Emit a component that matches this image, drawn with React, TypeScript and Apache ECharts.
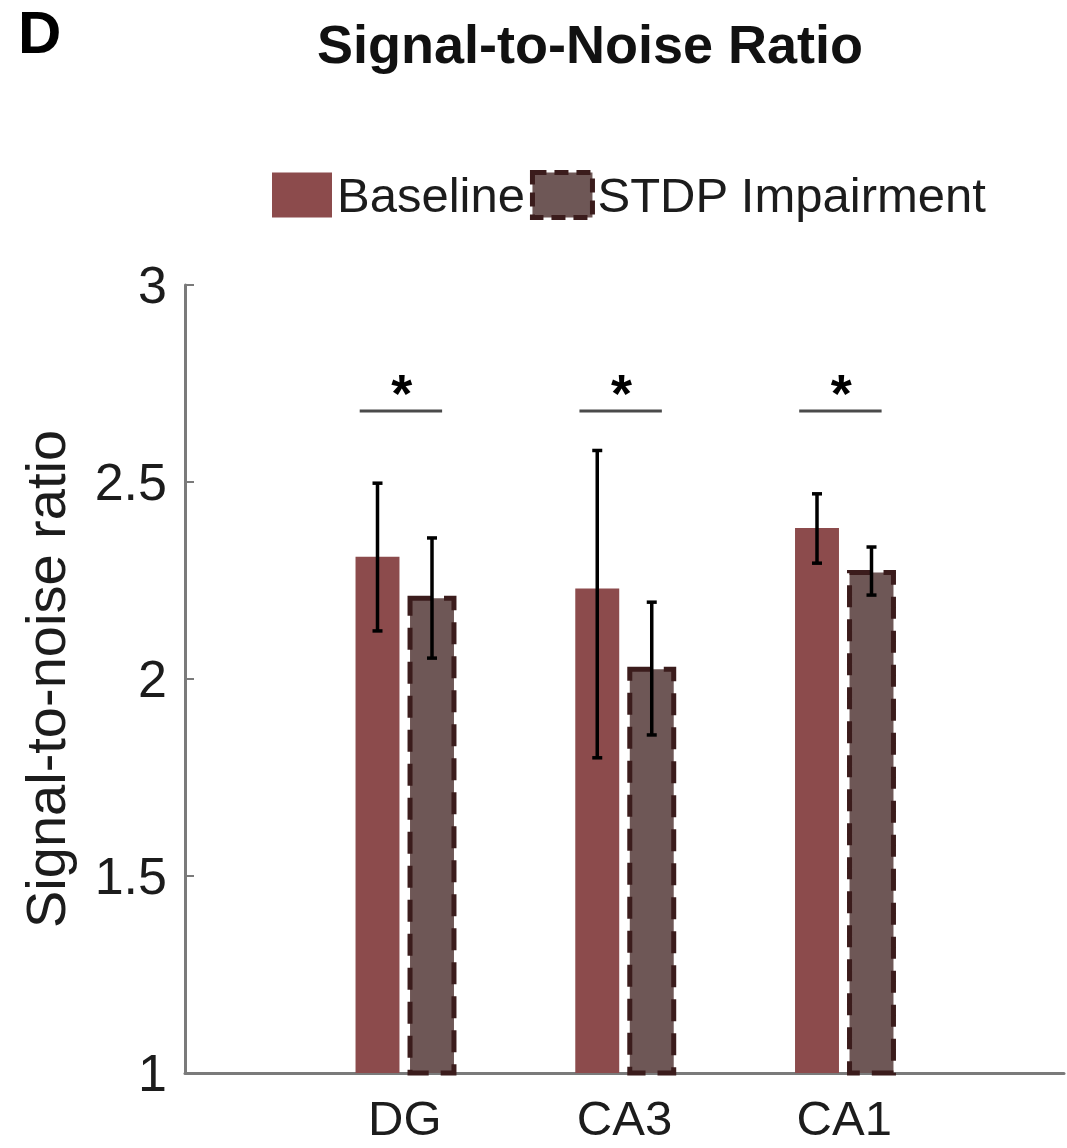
import React, { useEffect, useRef } from "react";
import * as echarts from "echarts";

const categories = ["DG", "CA3", "CA1"];
const baselineMean = [2.31, 2.23, 2.383];
const baselineLow = [2.122, 1.80, 2.294];
const baselineHigh = [2.497, 2.58, 2.47];
const stdpMean = [2.205, 2.025, 2.27];
const stdpLow = [2.053, 1.858, 2.213];
const stdpHigh = [2.358, 2.195, 2.335];
const sigLevel = [2.68, 2.68, 2.68];
const sigLabel = ["*", "*", "*"];
const seriesNames = ["Baseline", "STDP Impairment"];

const FONT = "'Liberation Sans', Arial, Helvetica, sans-serif";
const BASE_COLOR = "#8C4B4C";
const STDP_COLOR = "#6E5756";
const STDP_BORDER = "#3B1C1C";
const AXIS_COLOR = "#7a7a7a";
const TEXT_COLOR = "#1c1c1c";

const BAR_OFFSET = 0.124;
const BAR_W = 0.2;

export default function App() {
  const ref = useRef<HTMLDivElement>(null);

  useEffect(() => {
    if (!ref.current) return;
    const chart = echarts.init(ref.current, null, { renderer: "svg" });

    const barItem = (offset: number, style: any) => (params: any, api: any) => {
      const x = api.value(0) + offset;
      const y = api.value(1);
      const top = api.coord([x, y]);
      const bottom = api.coord([x, 1]);
      const w = api.size([BAR_W, 0])[0];
      return {
        type: "rect",
        shape: { x: top[0] - w / 2, y: top[1], width: w, height: bottom[1] - top[1] },
        style,
      };
    };

    const errItem = (params: any, api: any) => {
      const x = api.value(0) + api.value(3);
      const lo = api.coord([x, api.value(1)]);
      const hi = api.coord([x, api.value(2)]);
      const cw = 5;
      const ls = { stroke: "#000", lineWidth: 3.5 };
      return {
        type: "group",
        children: [
          { type: "line", shape: { x1: lo[0], y1: lo[1], x2: hi[0], y2: hi[1] }, style: ls },
          { type: "line", shape: { x1: lo[0] - cw, y1: lo[1], x2: lo[0] + cw, y2: lo[1] }, style: ls },
          { type: "line", shape: { x1: hi[0] - cw, y1: hi[1], x2: hi[0] + cw, y2: hi[1] }, style: ls },
        ],
      };
    };

    const sigItem = (params: any, api: any) => {
      const x = api.value(0);
      const l = api.coord([x - 0.205, api.value(1)]);
      const r = api.coord([x + 0.17, api.value(1)]);
      const c = api.coord([x, api.value(1)]);
      return {
        type: "group",
        children: [
          { type: "line", shape: { x1: l[0], y1: l[1], x2: r[0], y2: r[1] }, style: { stroke: "#4a4a4a", lineWidth: 3 } },
          {
            type: "text",
            x: c[0] - 3,
            y: c[1] - 18,
            style: {
              text: sigLabel[params.dataIndex],
              fontSize: 54,
              fontWeight: "bold",
              fontFamily: FONT,
              fill: "#000",
              align: "center",
              verticalAlign: "middle",
            },
          },
        ],
      };
    };

    const stdpStyle = {
      fill: STDP_COLOR,
      stroke: STDP_BORDER,
      lineWidth: 5,
      lineDash: [22, 12],
    };

    chart.setOption({
      animation: false,
      backgroundColor: "#ffffff",
      graphic: [
        {
          type: "text",
          x: 18,
          y: 32,
          style: { text: "D", fontSize: 60, fontWeight: "bold", fontFamily: FONT, fill: "#000", align: "left", verticalAlign: "middle" },
        },
        {
          type: "text",
          x: 590,
          y: 44,
          style: { text: "Signal-to-Noise Ratio", fontSize: 54, fontWeight: "bold", fontFamily: FONT, fill: "#111", align: "center", verticalAlign: "middle" },
        },
      ],
      legend: {
        left: 267,
        top: 165,
        itemWidth: 60,
        itemHeight: 45,
        itemGap: 5,
        icon: "rect",
        textStyle: { fontSize: 49, fontFamily: FONT, color: TEXT_COLOR },
        data: [
          { name: seriesNames[0], itemStyle: { color: BASE_COLOR, borderWidth: 0 } },
          { name: seriesNames[1], itemStyle: { color: STDP_COLOR, borderColor: STDP_BORDER, borderWidth: 5, borderType: [14, 8] } },
        ],
      },
      grid: { left: 185, top: 285, width: 885, bottom: 75, containLabel: false },
      xAxis: {
        type: "value",
        min: 0,
        max: 4,
        interval: 1,
        axisLine: { show: true, lineStyle: { color: AXIS_COLOR, width: 3 } },
        axisTick: { show: false },
        splitLine: { show: false },
        axisLabel: {
          fontSize: 49,
          fontFamily: FONT,
          color: TEXT_COLOR,
          margin: 20,
          formatter: (v: number) => (v >= 1 && v <= categories.length ? categories[v - 1] : ""),
        },
      },
      yAxis: {
        type: "value",
        min: 1,
        max: 3,
        interval: 0.5,
        name: "Signal-to-noise ratio",
        nameLocation: "middle",
        nameGap: 112,
        nameTextStyle: { fontSize: 56, fontFamily: FONT, color: TEXT_COLOR },
        axisLine: { show: true, lineStyle: { color: AXIS_COLOR, width: 3 } },
        axisTick: { show: true, inside: true, length: 9, lineStyle: { color: AXIS_COLOR, width: 2 } },
        splitLine: { show: false },
        axisLabel: {
          fontSize: 52,
          fontFamily: FONT,
          color: TEXT_COLOR,
          margin: 18,
          formatter: (v: number) => String(v),
        },
      },
      series: [
        {
          name: seriesNames[0],
          type: "custom",
          itemStyle: { color: BASE_COLOR },
          data: categories.map((c, i) => [i + 1, baselineMean[i]]),
          encode: { x: 0, y: 1 },
          renderItem: barItem(-BAR_OFFSET, { fill: BASE_COLOR }),
          z: 2,
        },
        {
          name: seriesNames[1],
          type: "custom",
          itemStyle: { color: STDP_COLOR, borderColor: STDP_BORDER, borderWidth: 5, borderType: "dashed" },
          data: categories.map((c, i) => [i + 1, stdpMean[i]]),
          encode: { x: 0, y: 1 },
          renderItem: barItem(BAR_OFFSET, stdpStyle),
          z: 2,
        },
        {
          name: "err",
          type: "custom",
          data: [
            ...categories.map((c, i) => [i + 1, baselineLow[i], baselineHigh[i], -BAR_OFFSET]),
            ...categories.map((c, i) => [i + 1, stdpLow[i], stdpHigh[i], BAR_OFFSET]),
          ],
          encode: { x: 0, y: [1, 2] },
          renderItem: errItem,
          z: 3,
        },
        {
          name: "sig",
          type: "custom",
          data: categories.map((c, i) => [i + 1, sigLevel[i]]),
          encode: { x: 0, y: 1 },
          renderItem: sigItem,
          z: 3,
        },
      ],
    });

    return () => chart.dispose();
  }, []);

  return (
    <div
      ref={ref}
      style={{ position: "absolute", left: 0, top: 0, width: 1067, height: 1148, background: "#fff" }}
    />
  );
}
